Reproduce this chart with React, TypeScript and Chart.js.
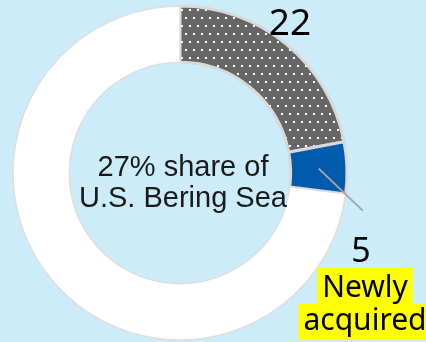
import React, { useEffect, useRef } from "react";
import { Chart, registerables } from "chart.js";

Chart.register(...registerables);

const categories = ["Existing holdings", "Newly acquired", "Rest of U.S. Bering Sea"];
const shareValues = [22, 5, 73];
const valueLabels = ["22", "5", ""];
const centerLines = ["27% share of", "U.S. Bering Sea"];
const calloutLines = ["Newly", "acquired"];

const BG = "#CCECF9";

export default function App() {
  const ref = useRef<HTMLCanvasElement>(null);

  useEffect(() => {
    const canvas = ref.current!;
    const tile = document.createElement("canvas");
    tile.width = 8;
    tile.height = 16;
    const t = tile.getContext("2d")!;
    t.fillStyle = "#666666";
    t.fillRect(0, 0, 8, 16);
    t.fillStyle = "#ffffff";
    t.fillRect(1, 1, 2, 2);
    t.fillRect(5, 9, 2, 2);
    const pattern = canvas.getContext("2d")!.createPattern(tile, "repeat")!;

    const labelPlugin = {
      id: "customLabels",
      afterDraw(chart: any) {
        const ctx: CanvasRenderingContext2D = chart.ctx;
        const meta = chart.getDatasetMeta(0);
        const a0 = meta.data[0] as any;
        const a1 = meta.data[1] as any;
        const cx = a0.x;
        const cy = a0.y;
        ctx.save();

        // center text
        ctx.fillStyle = "#1a1a1a";
        ctx.font = '29px "Liberation Sans", Arial, sans-serif';
        ctx.textAlign = "center";
        ctx.textBaseline = "alphabetic";
        ctx.fillText(centerLines[0], cx + 3, cy + 3);
        ctx.fillText(centerLines[1], cx + 3, cy + 34);

        // value labels
        ctx.fillStyle = "#000000";
        ctx.font = '37px "Noto Sans", sans-serif';
        ctx.fillText(valueLabels[0], cx + 110, cy - 138);
        ctx.font = '34px "Noto Sans", sans-serif';
        ctx.fillText(valueLabels[1], cx + 181, cy + 89);

        // leader line from blue slice centroid
        const p = a1.tooltipPosition(true);
        ctx.strokeStyle = "#A6A6A6";
        ctx.lineWidth = 2;
        ctx.beginPath();
        ctx.moveTo(p.x, p.y);
        ctx.lineTo(p.x + 44, p.y + 42);
        ctx.stroke();

        // highlighted callout
        ctx.font = '30px "Noto Sans", sans-serif';
        const tx = cx + 185;
        const boxes = [
          { text: calloutLines[0], top: cy + 95, base: cy + 124 },
          { text: calloutLines[1], top: cy + 131, base: cy + 157 },
        ];
        for (const b of boxes) {
          const w = ctx.measureText(b.text).width;
          ctx.fillStyle = "#FFFF00";
          ctx.fillRect(tx - w / 2 - 5, b.top, w + 10, 36);
        }
        ctx.fillStyle = "#000000";
        for (const b of boxes) {
          ctx.fillText(b.text, tx, b.base);
        }
        ctx.restore();
      },
    };

    const chart = new Chart(canvas, {
      type: "doughnut",
      data: {
        labels: categories,
        datasets: [
          {
            data: shareValues,
            backgroundColor: [pattern as any, "#005BAC", "#FFFFFF"],
            borderColor: ["#D9D9D9", "#D9D9D9", "#DEDEDE"],
            borderWidth: [3, 3, 1.5],
          },
        ],
      },
      options: {
        responsive: false,
        animation: false,
        radius: 167,
        cutout: 111,
        layout: { padding: { left: 0, right: 66, top: 4, bottom: 0 } },
        plugins: {
          legend: { display: false },
          tooltip: { enabled: false },
        },
      },
      plugins: [labelPlugin],
    });

    return () => chart.destroy();
  }, []);

  return (
    <div
      style={{
        position: "fixed",
        left: 0,
        top: 0,
        width: 426,
        height: 342,
        background: BG,
        overflow: "hidden",
      }}
    >
      <canvas ref={ref} width={426} height={342} style={{ display: "block" }} />
    </div>
  );
}
